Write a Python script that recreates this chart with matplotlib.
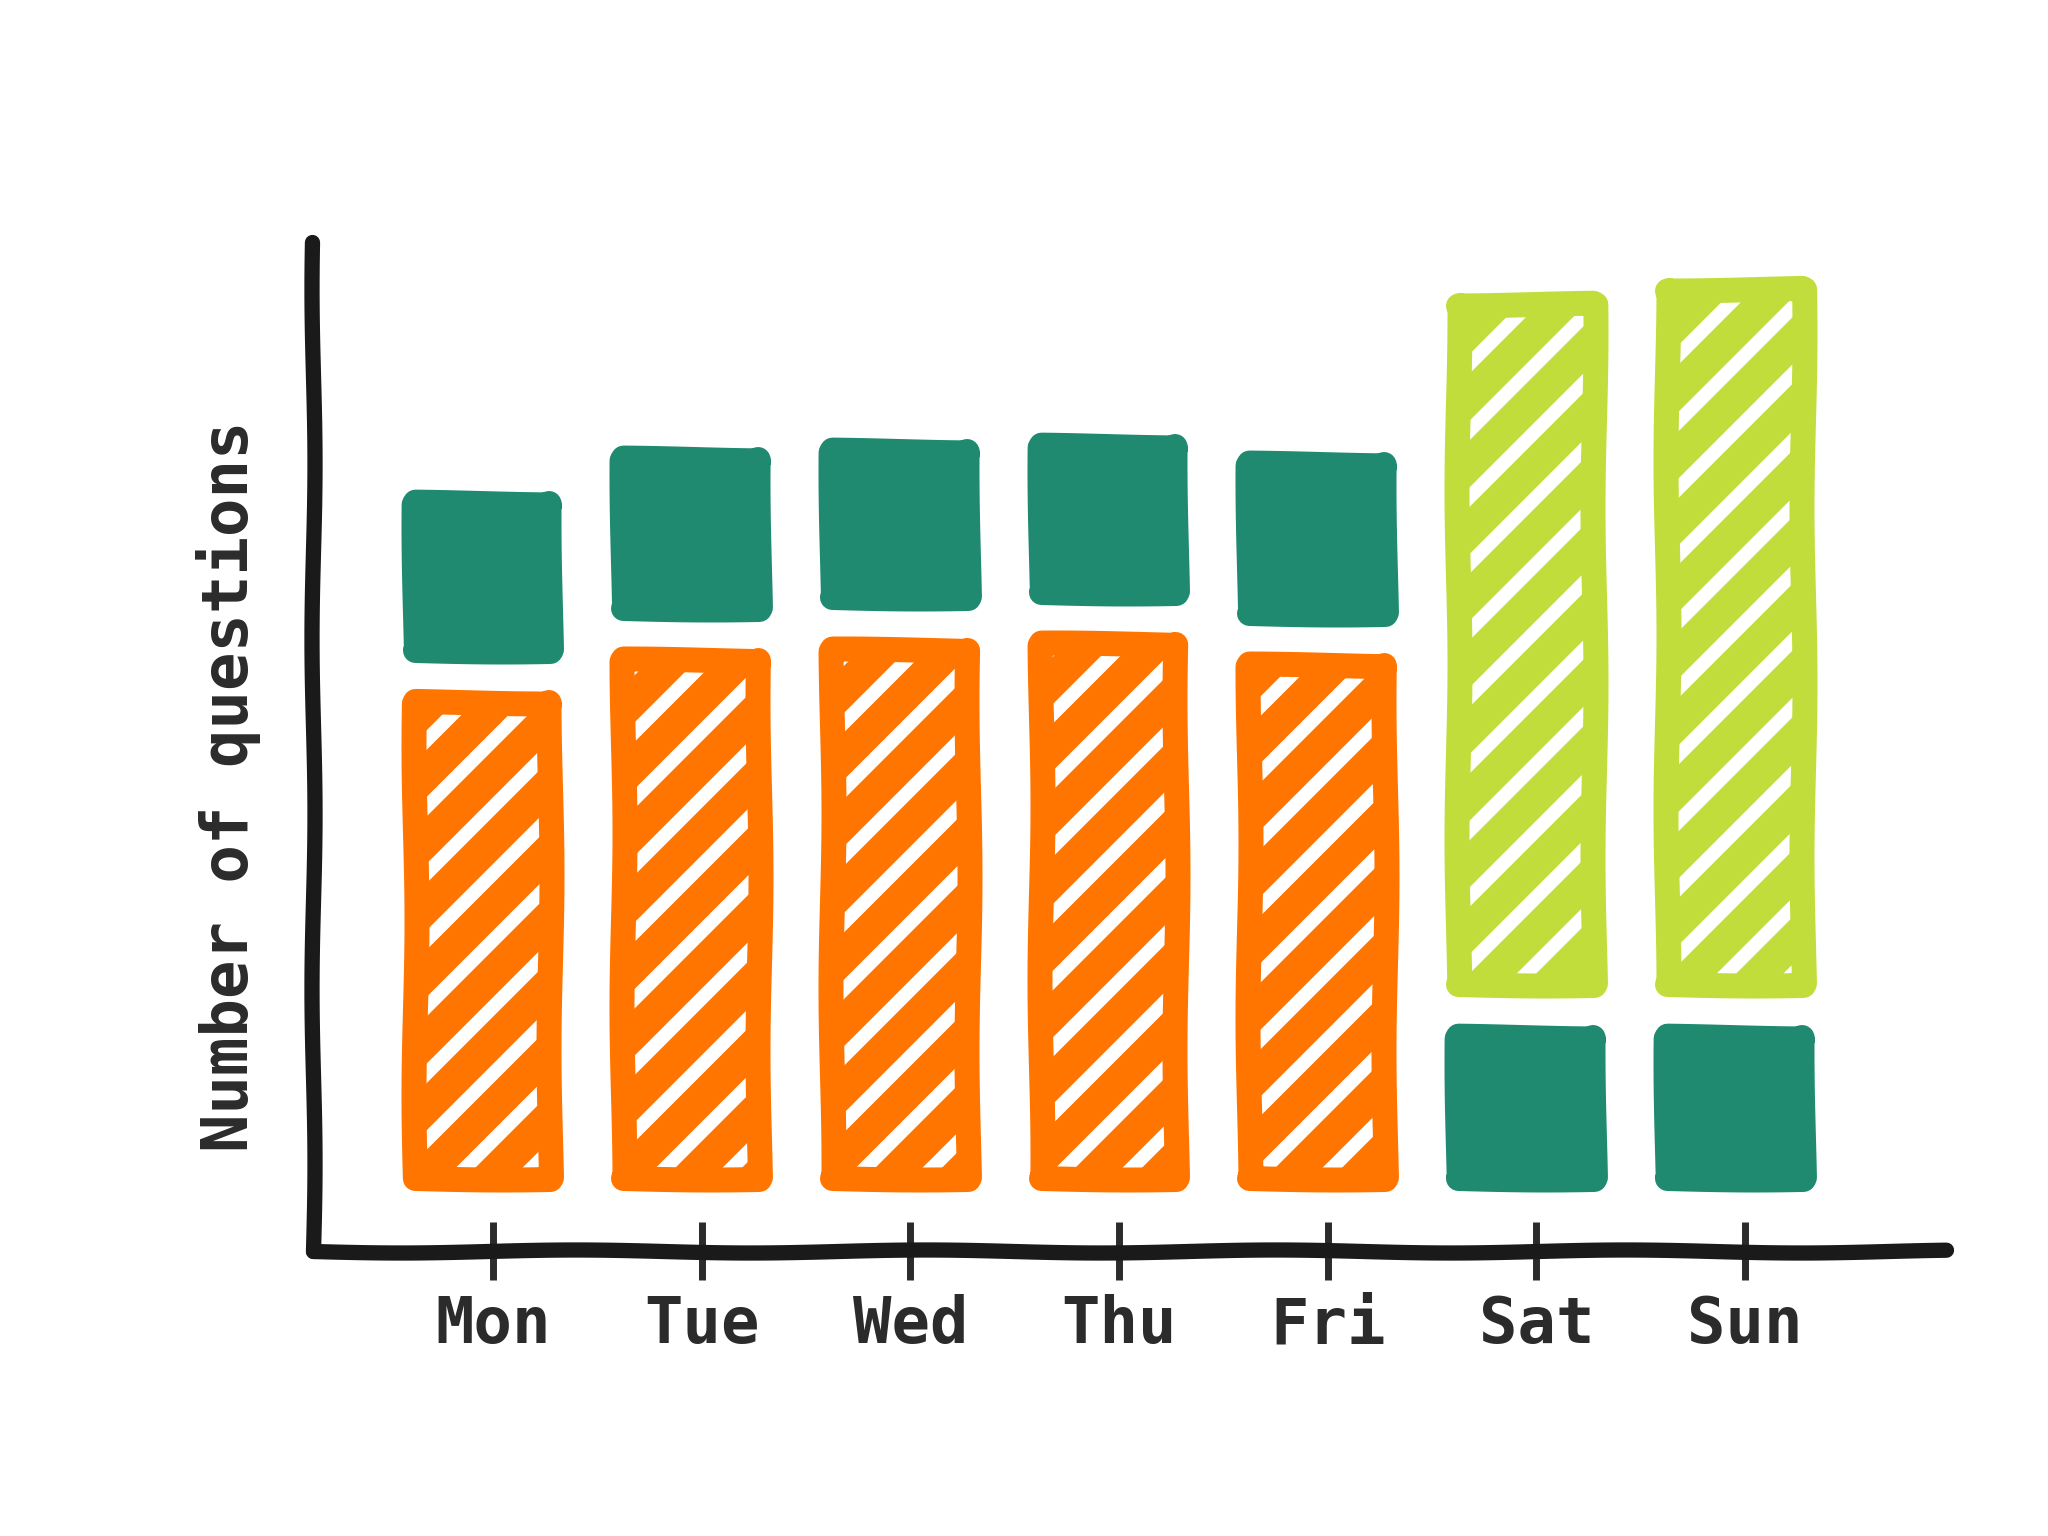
import numpy as np
import matplotlib
matplotlib.use("Agg")
import matplotlib.pyplot as plt

days = ['Mon', 'Tue', 'Wed', 'Thu', 'Fri', 'Sat', 'Sun']
weekday_q = [91, 99, 101, 102, 98, 0, 0]     # orange
weekend_q = [0, 0, 0, 0, 0, 130, 133]        # green
base_q = [28, 28.5, 28, 28, 28.5, 27, 27]    # teal

ORANGE = '#ff7500'
GREEN = '#c0dd3b'
TEAL = '#208a70'
INK = '#2b2b2b'

OFFSET = 14   # space between axis and first block
GAP = 10      # space between blocks

plt.xkcd(scale=1.5, length=350, randomness=1)
plt.rcParams['path.effects'] = []
plt.rcParams['hatch.linewidth'] = 12

fig = plt.figure(figsize=(10.24, 7.68), dpi=200)
ax = fig.add_axes([0.153, 0.1854, 0.797, 0.6573])

x = np.arange(len(days))
w = 0.65

for i in range(len(days)):
    if weekday_q[i] > 0:
        lower, lower_c, hatch_low = weekday_q[i], ORANGE, '/'
        upper, upper_c, hatch_up = base_q[i], TEAL, None
    else:
        lower, lower_c, hatch_low = base_q[i], TEAL, None
        upper, upper_c, hatch_up = weekend_q[i], GREEN, '/'
    for val, bot, col, hch in [(lower, OFFSET, lower_c, hatch_low),
                               (upper, OFFSET + lower + GAP, upper_c, hatch_up)]:
        ax.bar(x[i] - 0.05, val, width=w, bottom=bot,
               facecolor='white' if hch else col, edgecolor=col,
               hatch=hch, linewidth=9, joinstyle='round', capstyle='round')

ax.set_xlim(-0.86, 6.96)
ax.set_ylim(0, 193)

for s in ['top', 'right']:
    ax.spines[s].set_visible(False)
for s in ['left', 'bottom']:
    ax.spines[s].set_linewidth(5.5)
    ax.spines[s].set_color('#1a1a1a')
    ax.spines[s].set_capstyle('round')

ax.set_yticks([])
ax.set_xticks(x)
ax.set_xticklabels(days, family='DejaVu Sans Mono', fontweight='bold',
                   fontsize=23, color=INK)
ax.tick_params(axis='x', direction='inout', length=21, width=2.5,
               color=INK, pad=5)

fig.text(0.1116, 0.488, 'Number of questions', rotation=90,
         family='DejaVu Sans Mono', fontweight='bold', fontsize=23,
         color=INK, ha='center', va='center')

fig.savefig('out.png', dpi=200, facecolor='white')
